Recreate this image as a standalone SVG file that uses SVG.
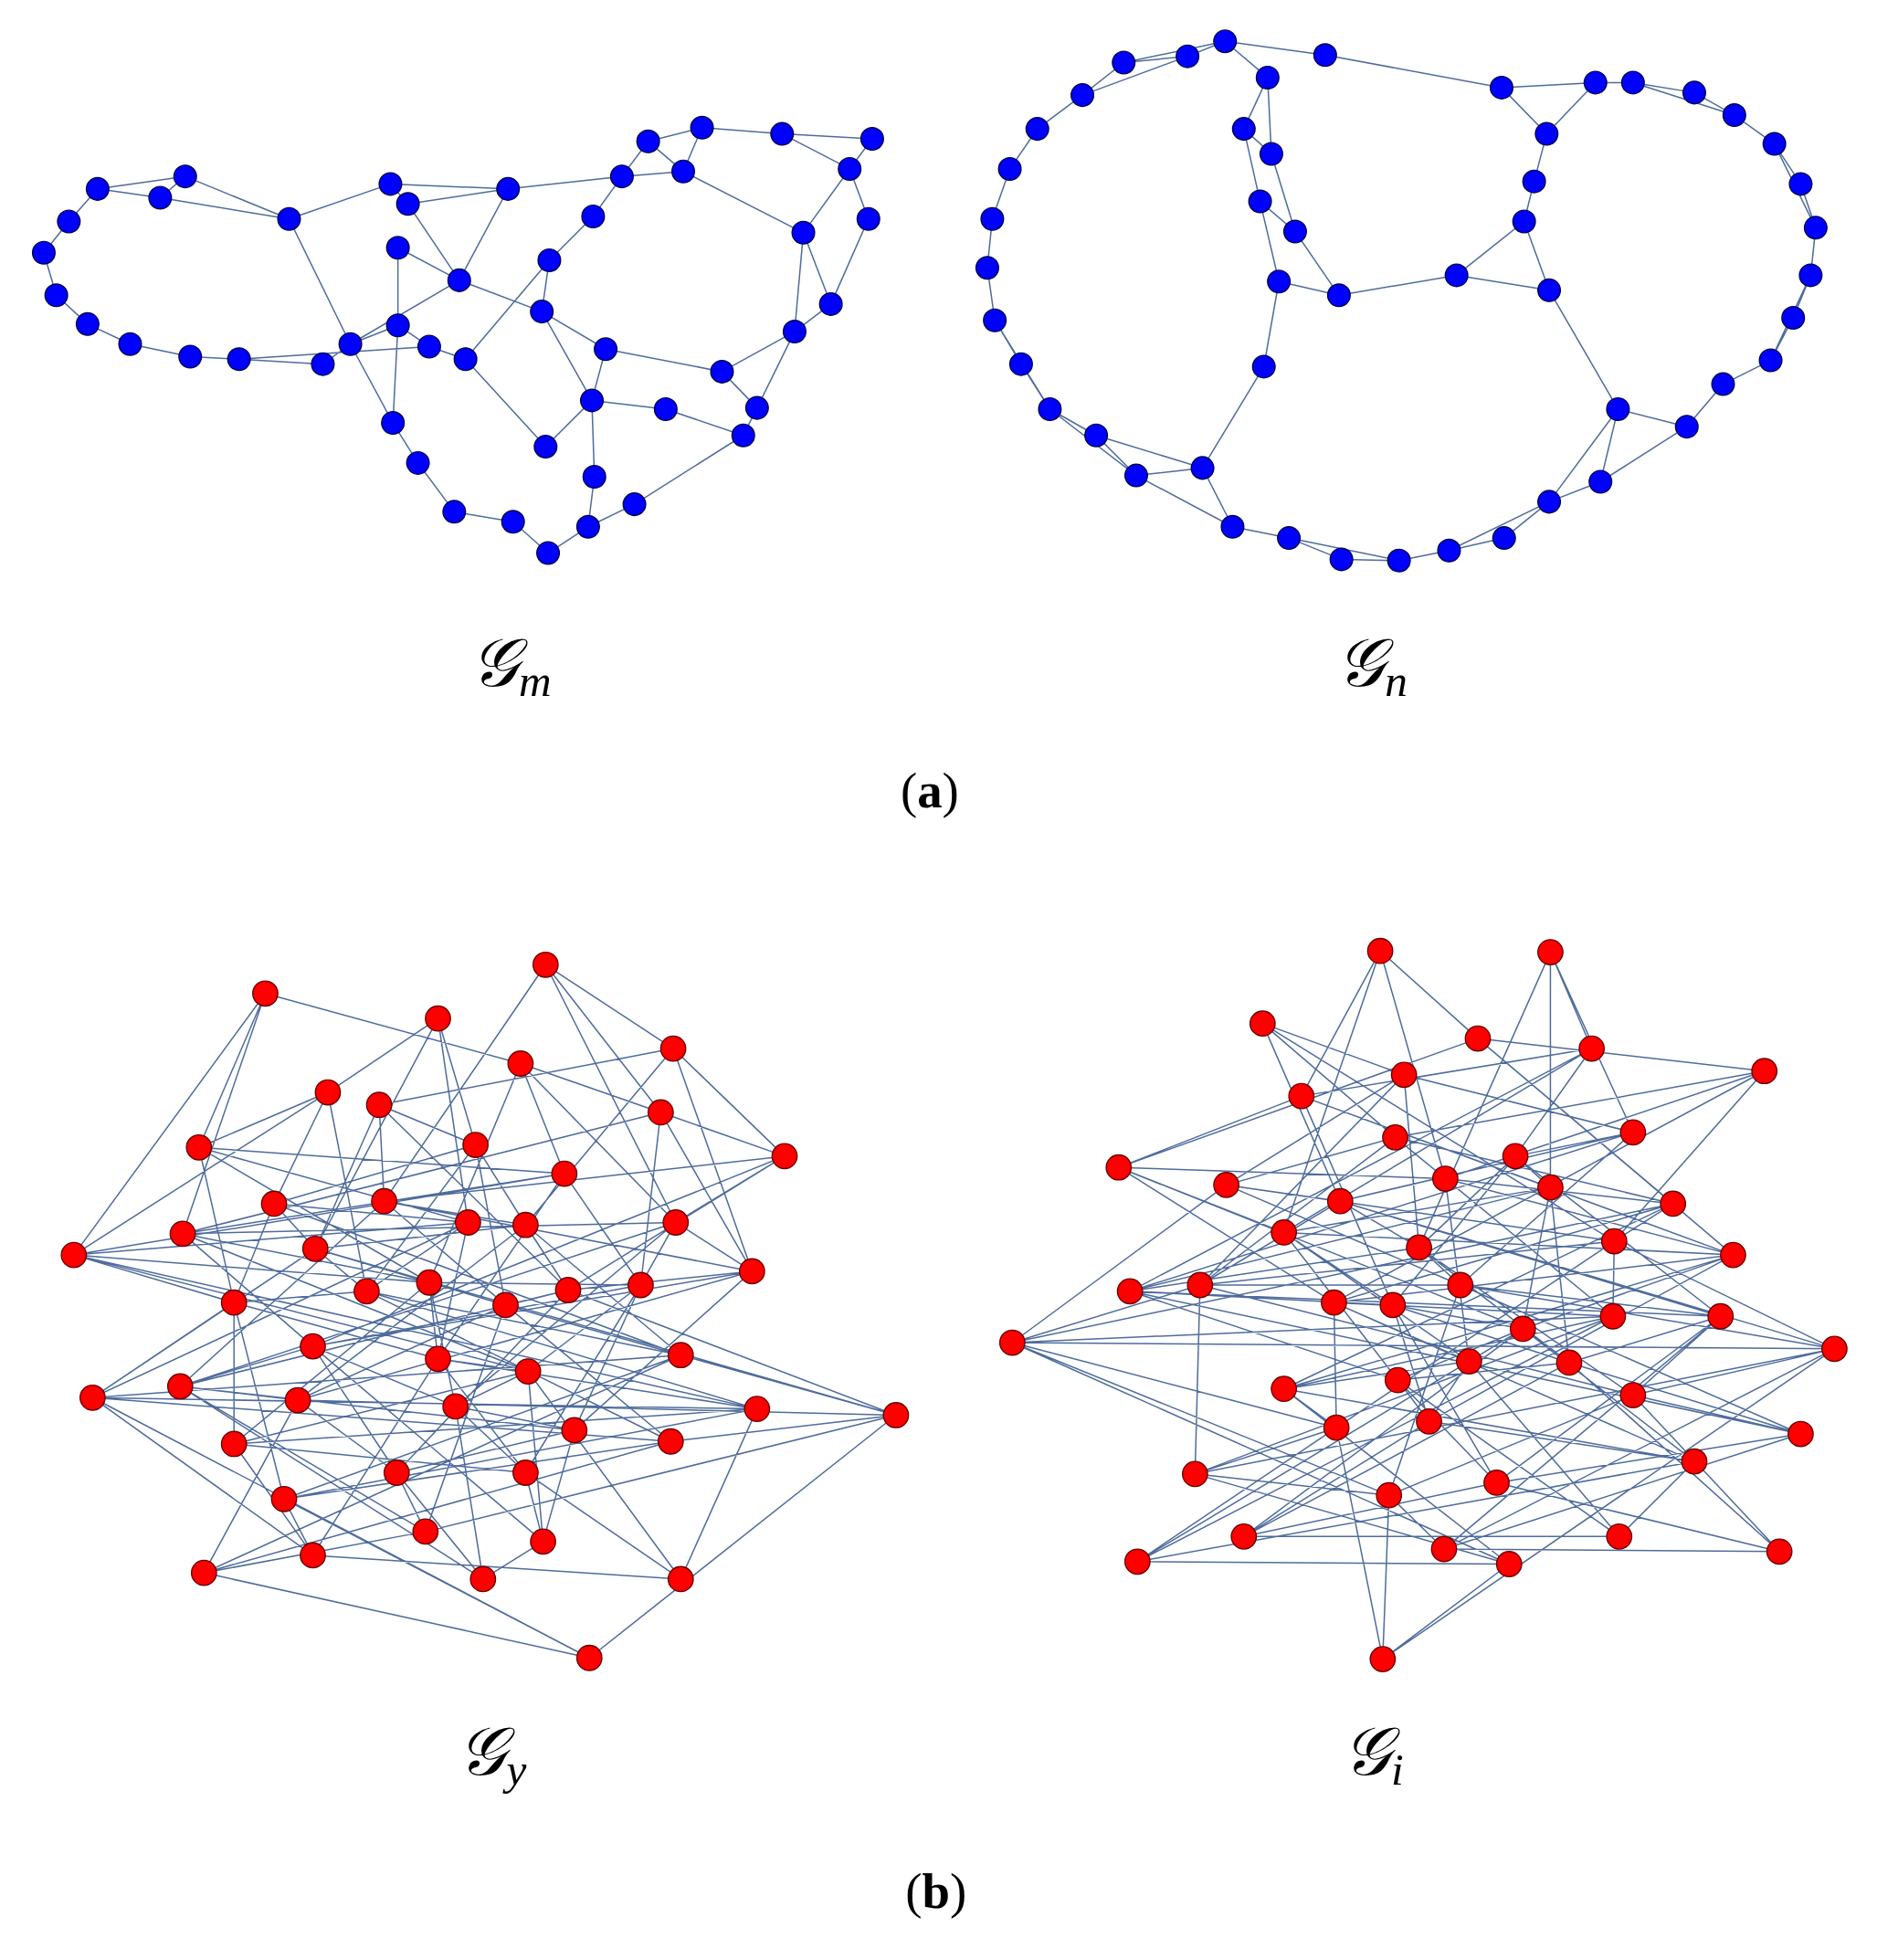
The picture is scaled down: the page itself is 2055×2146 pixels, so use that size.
<svg xmlns="http://www.w3.org/2000/svg" width="2055" height="2146" viewBox="0 0 2055 2146">
<style>
.e{fill:none;stroke:#4f6c9c;stroke-width:1.1;stroke-linejoin:round}
.b{fill:#0000ff;stroke:#00004a;stroke-width:1}
.r{fill:#ff0000;stroke:#6a0000;stroke-width:1}
.lab{font-family:"DejaVu Serif","Noto Sans",serif;font-style:italic;font-size:54px;fill:#000}
.sub{font-family:"Liberation Serif",serif;font-style:italic;font-size:36px}
.cap{font-family:"Liberation Serif",serif;font-size:40px;fill:#000}
</style>
<rect width="2055" height="2146" fill="#fff"/>
<g transform="scale(1.37)">
<g id="connectors">
<path class="e" d="M78,151 L55,177 L35,202 L45,236 L70,259 L104,275 L152,285 L191,287 L258,291 L280,275 M191,287 L343,277 M78,151 L148,141 L128,158 L78,151 M148,141 L231,175 M128,158 L231,175 L312,147 L406,151 L497,141 M231,175 L280,275 L314,338 L334,370 L363,409 L410,417 L438,442 L470,421 L507,403 L594,348 M312,147 L326,163 L367,224 L318,198 L318,260 L314,338 M326,163 L406,151 L367,224 M280,275 L367,224 M280,275 L318,260 L343,277 L372,287 L439,208 L474,173 L497,141 L518,113 L561,102 L625,107 L697,111 L679,135 L694,175 L664,243 L635,265 L605,326 L594,348 M497,141 L546,137 L561,102 M518,113 L546,137 L642,186 L679,135 L625,107 M642,186 L664,243 M642,186 L635,265 M367,224 L433,249 L484,279 L577,297 L605,326 M577,297 L635,265 M433,249 L439,208 M484,279 L473,320 L532,327 L594,348 M473,320 L436,357 L372,287 M473,320 L475,381 L470,421 M433,249 L473,320"/>
<path class="e" d="M1059,44 L979,33 L949,45 L898,50 L865,76 L829,103 L807,135 L793,175 L789,214 L795,256 L816,291 L839,327 L876,348 L908,380 L985,421 L1030,430 L1072,447 L1118,448 L1158,440 L1202,430 L1238,401 L1279,385 L1348,341 L1377,307 L1415,288 L1433,254 L1447,220 L1451,182 L1439,147 L1418,115 L1386,92 L1354,74 L1305,66 L1275,66 L1200,70 L1059,44 M979,33 L898,50 M949,45 L865,76 M876,348 L961,374 L985,421 M961,374 L908,380 M961,374 L1010,293 L1022,225 L1070,236 L1164,220 L1238,232 L1293,327 L1348,341 M1293,327 L1279,385 M1293,327 L1238,401 M1164,220 L1218,177 L1238,232 M1218,177 L1226,145 L1236,107 L1200,70 M1236,107 L1275,66 M1070,236 L1035,185 L1007,161 L994,103 L1013,62 L979,33 M1013,62 L1016,123 L1035,185 M1016,123 L994,103 M1007,161 L1022,225 M1030,430 L1118,448 M1158,440 L1238,401 M1305,66 L1386,92 M1418,115 L1451,182 M1447,220 L1415,288 M839,327 L908,380 M795,256 L839,327"/>
<path class="e" d="M436,771 L540,977 L364,1124 M212,794 L59,1003 L605,1126 M350,814 L252,998 L716,1131 M538,838 L601,1016 L459,1143 M416,850 L343,1025 L187,1154 M262,873 L293,1032 L536,1152 M303,883 L454,1031 L317,1177 M528,889 L512,1027 L420,1177 M159,917 L187,1041 L227,1198 M380,915 L404,1043 L340,1224 M627,924 L250,1076 L434,1232 M451,938 L350,1086 L250,1243 M219,962 L544,1083 L163,1257 M307,960 L144,1108 L386,1262 M146,986 L422,1096 L544,1262 M374,977 L74,1117 L471,1325 M420,979 L238,1119
M436,771 L538,838 L303,883 L380,915 L219,962 L374,977 L59,1003 L343,1025 L512,1027 L250,1076 L144,1108 L238,1119 L716,1131 L536,1152 L227,1198 L250,1243 L544,1262
M212,794 L416,850 L528,889 L627,924 L307,960 L420,979 L252,998 L293,1032 L187,1041 L350,1086 L422,1096 L364,1124 L459,1143 L317,1177 L340,1224 L163,1257 L471,1325
M350,814 L262,873 L159,917 L451,938 L146,986 L540,977 L601,1016 L454,1031 L404,1043 L544,1083 L74,1117 L605,1126 L187,1154 L420,1177 L434,1232 L386,1262
M436,771 L528,889 L146,986 L343,1025 L350,1086 L605,1126 L227,1198 L471,1325
M212,794 L159,917 L374,977 L293,1032 L544,1083 L716,1131 L340,1224
M350,814 L380,915 L420,979 L454,1031 L144,1108 L459,1143 L434,1232
M538,838 L627,924 L540,977 L512,1027 L422,1096 L187,1154 L250,1243
M416,850 L451,938 L59,1003 L187,1041 L74,1117 L536,1152 L163,1257
M262,873 L219,962 L252,998 L404,1043 L238,1119 L317,1177 L386,1262
M303,883 L307,960 L601,1016 L250,1076 L364,1124 L420,1177 L544,1262
M436,771 L307,960 L404,1043 L536,1152 M212,794 L146,986 L250,1076 L317,1177 M350,814 L374,977 L350,1086 L420,1177 M538,838 L420,979 L544,1083 L227,1198 M416,850 L540,977 L144,1108 L340,1224 M262,873 L59,1003 L422,1096 L434,1232 M303,883 L252,998 L74,1117 L250,1243 M528,889 L601,1016 L238,1119 L163,1257 M159,917 L343,1025 L364,1124 L386,1262 M380,915 L293,1032 L605,1126 L544,1262 M627,924 L454,1031 L716,1131 L471,1325 M451,938 L512,1027 L459,1143 M219,962 L187,1041 L187,1154"/>
<path class="e" d="M1103,760 L1026,985 L1117,1103 M1239,761 L1134,997 L1305,1115 M1009,818 L1290,992 L1068,1141 M1181,830 L1385,1003 L1142,1136 M1272,838 L903,1032 L1439,1146 M1122,859 L959,1027 L955,1178 M1410,856 L1066,1041 L1354,1168 M1040,876 L1113,1043 L1196,1185 M1305,905 L1167,1027 L1110,1195 M1115,909 L1289,1052 L909,1248 M894,933 L1217,1062 L994,1228 M1211,924 L1375,1052 L1154,1238 M980,947 L809,1073 L1206,1250 M1155,942 L1174,1088 L1294,1228 M1239,949 L1254,1089 L1422,1240 M1071,960 L1466,1078 L1105,1326 M1337,962 L1026,1110
M1103,760 L1181,830 L1410,856 L1115,909 L980,947 L1071,960 L1134,997 L903,1032 L1113,1043 L1217,1062 L1174,1088 L1026,1110 L1068,1141 L955,1178 L1110,1195 L1154,1238 L1422,1240
M1239,761 L1272,838 L1040,876 L894,933 L1155,942 L1337,962 L1290,992 L959,1027 L1167,1027 L1375,1052 L1254,1089 L1117,1103 L1142,1136 L1354,1168 L909,1248 L1206,1250 L1105,1326
M1009,818 L1122,859 L1305,905 L1211,924 L1239,949 L1026,985 L1385,1003 L1066,1041 L1289,1052 L809,1073 L1466,1078 L1305,1115 L1439,1146 L1196,1185 L994,1228 L1294,1228
M1103,760 L1040,876 L1239,949 L903,1032 L1375,1052 L1305,1115 L1110,1195 L1105,1326
M1239,761 L1305,905 L1071,960 L959,1027 L809,1073 L1068,1141 L909,1248
M1009,818 L1115,909 L1337,962 L1066,1041 L1174,1088 L1142,1136 L994,1228
M1181,830 L894,933 L1026,985 L1113,1043 L1254,1089 L1439,1146 L1154,1238
M1272,838 L1211,924 L1134,997 L1167,1027 L1466,1078 L955,1178 L1206,1250
M1122,859 L980,947 L1290,992 L1289,1052 L1026,1110 L1354,1168 L1294,1228
M1410,856 L1155,942 L1385,1003 L1217,1062 L1117,1103 L1196,1185 L1422,1240
M1103,760 L1155,942 L1289,1052 L955,1178 M1239,761 L1239,949 L1217,1062 L1354,1168 M1009,818 L1071,960 L1375,1052 L1196,1185 M1181,830 L1337,962 L809,1073 L1110,1195 M1272,838 L1026,985 L1174,1088 L909,1248 M1122,859 L1134,997 L1254,1089 L994,1228 M1410,856 L1290,992 L1466,1078 L1154,1238 M1040,876 L1385,1003 L1026,1110 L1206,1250 M1305,905 L903,1032 L1117,1103 L1294,1228 M1115,909 L959,1027 L1305,1115 L1422,1240 M894,933 L1066,1041 L1068,1141 L1105,1326 M1211,924 L1113,1043 L1142,1136 M980,947 L1167,1027 L1439,1146"/>
</g>
<g id="Gm-nodes" class="b">
<circle id="m1" cx="35" cy="202" r="9"/><circle id="m2" cx="55" cy="177" r="9"/><circle id="m3" cx="78" cy="151" r="9"/><circle id="m4" cx="128" cy="158" r="9"/><circle id="m5" cx="148" cy="141" r="9"/><circle id="m6" cx="45" cy="236" r="9"/><circle id="m7" cx="70" cy="259" r="9"/><circle id="m8" cx="104" cy="275" r="9"/><circle id="m9" cx="152" cy="285" r="9"/><circle id="m10" cx="191" cy="287" r="9"/><circle id="m11" cx="258" cy="291" r="9"/><circle id="m12" cx="280" cy="275" r="9"/><circle id="m13" cx="231" cy="175" r="9"/><circle id="m14" cx="312" cy="147" r="9"/><circle id="m15" cx="326" cy="163" r="9"/><circle id="m16" cx="318" cy="198" r="9"/><circle id="m17" cx="318" cy="260" r="9"/><circle id="m18" cx="343" cy="277" r="9"/><circle id="m19" cx="372" cy="287" r="9"/><circle id="m20" cx="367" cy="224" r="9"/><circle id="m21" cx="406" cy="151" r="9"/><circle id="m22" cx="433" cy="249" r="9"/><circle id="m23" cx="439" cy="208" r="9"/><circle id="m24" cx="474" cy="173" r="9"/><circle id="m25" cx="497" cy="141" r="9"/><circle id="m26" cx="518" cy="113" r="9"/><circle id="m27" cx="561" cy="102" r="9"/><circle id="m28" cx="546" cy="137" r="9"/><circle id="m29" cx="625" cy="107" r="9"/><circle id="m30" cx="697" cy="111" r="9"/><circle id="m31" cx="679" cy="135" r="9"/><circle id="m32" cx="694" cy="175" r="9"/><circle id="m33" cx="642" cy="186" r="9"/><circle id="m34" cx="664" cy="243" r="9"/><circle id="m35" cx="635" cy="265" r="9"/><circle id="m36" cx="577" cy="297" r="9"/><circle id="m37" cx="605" cy="326" r="9"/><circle id="m38" cx="594" cy="348" r="9"/><circle id="m39" cx="484" cy="279" r="9"/><circle id="m40" cx="473" cy="320" r="9"/><circle id="m41" cx="532" cy="327" r="9"/><circle id="m42" cx="436" cy="357" r="9"/><circle id="m43" cx="475" cy="381" r="9"/><circle id="m44" cx="507" cy="403" r="9"/><circle id="m45" cx="470" cy="421" r="9"/><circle id="m46" cx="438" cy="442" r="9"/><circle id="m47" cx="410" cy="417" r="9"/><circle id="m48" cx="363" cy="409" r="9"/><circle id="m49" cx="334" cy="370" r="9"/><circle id="m50" cx="314" cy="338" r="9"/>
</g>
<g id="Gn-nodes" class="b">
<circle id="n1" cx="979" cy="33" r="9"/><circle id="n2" cx="949" cy="45" r="9"/><circle id="n3" cx="898" cy="50" r="9"/><circle id="n4" cx="865" cy="76" r="9"/><circle id="n5" cx="829" cy="103" r="9"/><circle id="n6" cx="807" cy="135" r="9"/><circle id="n7" cx="793" cy="175" r="9"/><circle id="n8" cx="789" cy="214" r="9"/><circle id="n9" cx="795" cy="256" r="9"/><circle id="n10" cx="816" cy="291" r="9"/><circle id="n11" cx="839" cy="327" r="9"/><circle id="n12" cx="876" cy="348" r="9"/><circle id="n13" cx="908" cy="380" r="9"/><circle id="n14" cx="961" cy="374" r="9"/><circle id="n15" cx="985" cy="421" r="9"/><circle id="n16" cx="1030" cy="430" r="9"/><circle id="n17" cx="1072" cy="447" r="9"/><circle id="n18" cx="1118" cy="448" r="9"/><circle id="n19" cx="1158" cy="440" r="9"/><circle id="n20" cx="1202" cy="430" r="9"/><circle id="n21" cx="1238" cy="401" r="9"/><circle id="n22" cx="1279" cy="385" r="9"/><circle id="n23" cx="1348" cy="341" r="9"/><circle id="n24" cx="1377" cy="307" r="9"/><circle id="n25" cx="1415" cy="288" r="9"/><circle id="n26" cx="1433" cy="254" r="9"/><circle id="n27" cx="1447" cy="220" r="9"/><circle id="n28" cx="1451" cy="182" r="9"/><circle id="n29" cx="1439" cy="147" r="9"/><circle id="n30" cx="1418" cy="115" r="9"/><circle id="n31" cx="1386" cy="92" r="9"/><circle id="n32" cx="1354" cy="74" r="9"/><circle id="n33" cx="1305" cy="66" r="9"/><circle id="n34" cx="1275" cy="66" r="9"/><circle id="n35" cx="1200" cy="70" r="9"/><circle id="n36" cx="1236" cy="107" r="9"/><circle id="n37" cx="1226" cy="145" r="9"/><circle id="n38" cx="1218" cy="177" r="9"/><circle id="n39" cx="1238" cy="232" r="9"/><circle id="n40" cx="1164" cy="220" r="9"/><circle id="n41" cx="1070" cy="236" r="9"/><circle id="n42" cx="1022" cy="225" r="9"/><circle id="n43" cx="1035" cy="185" r="9"/><circle id="n44" cx="1007" cy="161" r="9"/><circle id="n45" cx="1016" cy="123" r="9"/><circle id="n46" cx="994" cy="103" r="9"/><circle id="n47" cx="1013" cy="62" r="9"/><circle id="n48" cx="1059" cy="44" r="9"/><circle id="n49" cx="1010" cy="293" r="9"/><circle id="n50" cx="1293" cy="327" r="9"/>
</g>
<g id="Gy-nodes" class="r">
<circle id="y0" cx="436" cy="771" r="10"/><circle id="y1" cx="212" cy="794" r="10"/><circle id="y2" cx="350" cy="814" r="10"/><circle id="y3" cx="538" cy="838" r="10"/><circle id="y4" cx="416" cy="850" r="10"/><circle id="y5" cx="262" cy="873" r="10"/><circle id="y6" cx="303" cy="883" r="10"/><circle id="y7" cx="528" cy="889" r="10"/><circle id="y8" cx="159" cy="917" r="10"/><circle id="y9" cx="380" cy="915" r="10"/><circle id="y10" cx="627" cy="924" r="10"/><circle id="y11" cx="451" cy="938" r="10"/><circle id="y12" cx="219" cy="962" r="10"/><circle id="y13" cx="307" cy="960" r="10"/><circle id="y14" cx="146" cy="986" r="10"/><circle id="y15" cx="374" cy="977" r="10"/><circle id="y16" cx="420" cy="979" r="10"/><circle id="y17" cx="540" cy="977" r="10"/><circle id="y18" cx="59" cy="1003" r="10"/><circle id="y19" cx="252" cy="998" r="10"/><circle id="y20" cx="601" cy="1016" r="10"/><circle id="y21" cx="343" cy="1025" r="10"/><circle id="y22" cx="293" cy="1032" r="10"/><circle id="y23" cx="454" cy="1031" r="10"/><circle id="y24" cx="512" cy="1027" r="10"/><circle id="y25" cx="187" cy="1041" r="10"/><circle id="y26" cx="404" cy="1043" r="10"/><circle id="y27" cx="250" cy="1076" r="10"/><circle id="y28" cx="350" cy="1086" r="10"/><circle id="y29" cx="544" cy="1083" r="10"/><circle id="y30" cx="144" cy="1108" r="10"/><circle id="y31" cx="422" cy="1096" r="10"/><circle id="y32" cx="74" cy="1117" r="10"/><circle id="y33" cx="238" cy="1119" r="10"/><circle id="y34" cx="364" cy="1124" r="10"/><circle id="y35" cx="605" cy="1126" r="10"/><circle id="y36" cx="716" cy="1131" r="10"/><circle id="y37" cx="459" cy="1143" r="10"/><circle id="y38" cx="187" cy="1154" r="10"/><circle id="y39" cx="536" cy="1152" r="10"/><circle id="y40" cx="317" cy="1177" r="10"/><circle id="y41" cx="420" cy="1177" r="10"/><circle id="y42" cx="227" cy="1198" r="10"/><circle id="y43" cx="340" cy="1224" r="10"/><circle id="y44" cx="434" cy="1232" r="10"/><circle id="y45" cx="250" cy="1243" r="10"/><circle id="y46" cx="163" cy="1257" r="10"/><circle id="y47" cx="386" cy="1262" r="10"/><circle id="y48" cx="544" cy="1262" r="10"/><circle id="y49" cx="471" cy="1325" r="10"/>
</g>
<g id="Gi-nodes" class="r">
<circle id="i0" cx="1103" cy="760" r="10"/><circle id="i1" cx="1239" cy="761" r="10"/><circle id="i2" cx="1009" cy="818" r="10"/><circle id="i3" cx="1181" cy="830" r="10"/><circle id="i4" cx="1272" cy="838" r="10"/><circle id="i5" cx="1122" cy="859" r="10"/><circle id="i6" cx="1410" cy="856" r="10"/><circle id="i7" cx="1040" cy="876" r="10"/><circle id="i8" cx="1305" cy="905" r="10"/><circle id="i9" cx="1115" cy="909" r="10"/><circle id="i10" cx="894" cy="933" r="10"/><circle id="i11" cx="1211" cy="924" r="10"/><circle id="i12" cx="980" cy="947" r="10"/><circle id="i13" cx="1155" cy="942" r="10"/><circle id="i14" cx="1239" cy="949" r="10"/><circle id="i15" cx="1071" cy="960" r="10"/><circle id="i16" cx="1337" cy="962" r="10"/><circle id="i17" cx="1026" cy="985" r="10"/><circle id="i18" cx="1134" cy="997" r="10"/><circle id="i19" cx="1290" cy="992" r="10"/><circle id="i20" cx="1385" cy="1003" r="10"/><circle id="i21" cx="903" cy="1032" r="10"/><circle id="i22" cx="959" cy="1027" r="10"/><circle id="i23" cx="1066" cy="1041" r="10"/><circle id="i24" cx="1113" cy="1043" r="10"/><circle id="i25" cx="1167" cy="1027" r="10"/><circle id="i26" cx="1289" cy="1052" r="10"/><circle id="i27" cx="1217" cy="1062" r="10"/><circle id="i28" cx="1375" cy="1052" r="10"/><circle id="i29" cx="809" cy="1073" r="10"/><circle id="i30" cx="1174" cy="1088" r="10"/><circle id="i31" cx="1254" cy="1089" r="10"/><circle id="i32" cx="1466" cy="1078" r="10"/><circle id="i33" cx="1026" cy="1110" r="10"/><circle id="i34" cx="1117" cy="1103" r="10"/><circle id="i35" cx="1305" cy="1115" r="10"/><circle id="i36" cx="1068" cy="1141" r="10"/><circle id="i37" cx="1142" cy="1136" r="10"/><circle id="i38" cx="1439" cy="1146" r="10"/><circle id="i39" cx="955" cy="1178" r="10"/><circle id="i40" cx="1354" cy="1168" r="10"/><circle id="i41" cx="1196" cy="1185" r="10"/><circle id="i42" cx="1110" cy="1195" r="10"/><circle id="i43" cx="909" cy="1248" r="10"/><circle id="i44" cx="994" cy="1228" r="10"/><circle id="i45" cx="1154" cy="1238" r="10"/><circle id="i46" cx="1206" cy="1250" r="10"/><circle id="i47" cx="1294" cy="1228" r="10"/><circle id="i48" cx="1422" cy="1240" r="10"/><circle id="i49" cx="1105" cy="1326" r="10"/>
</g>
<text class="lab" x="376" y="548">𝒢<tspan class="sub" dy="8">m</tspan></text>
<text class="lab" x="1068" y="548">𝒢<tspan class="sub" dy="8">n</tspan></text>
<text class="cap" x="743" y="645" text-anchor="middle">(<tspan font-weight="bold">a</tspan>)</text>
<text class="lab" x="366" y="1418">𝒢<tspan class="sub" dy="8">y</tspan></text>
<text class="lab" x="1073" y="1418">𝒢<tspan class="sub" dy="8">i</tspan></text>
<text class="cap" x="748" y="1525" text-anchor="middle">(<tspan font-weight="bold">b</tspan>)</text>
</g>
</svg>
